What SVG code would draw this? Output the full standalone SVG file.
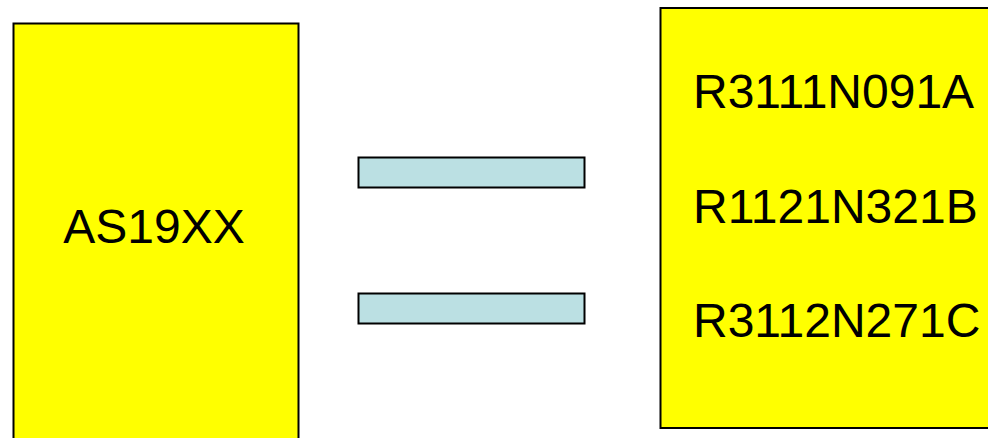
<svg xmlns="http://www.w3.org/2000/svg" width="988" height="438" viewBox="0 0 988 438">
<style>
.box{fill:#FFFF00;stroke:#000;stroke-width:2}
.bar{fill:#BBE0E3;stroke:#000;stroke-width:2}
.t{font-family:"Liberation Sans",Arial,sans-serif;font-size:48px;fill:#000}
</style>
<rect width="988" height="438" fill="#fff"/>
<g id="left-node">
<rect class="box" x="13.5" y="23.5" width="285" height="430"/>
<text class="t" x="154" y="243" text-anchor="middle">AS19XX</text>
</g>
<g id="connectors">
<rect class="bar" x="358.5" y="157.5" width="226" height="30"/>
<rect class="bar" x="358.5" y="293.5" width="226" height="30"/>
</g>
<g id="right-node">
<rect class="box" x="660.5" y="8" width="340" height="420"/>
<text class="t" x="693" y="108">R3111N091A</text>
<text class="t" x="693" y="223">R1121N321B</text>
<text class="t" x="693" y="337">R3112N271C</text>
</g>
</svg>
